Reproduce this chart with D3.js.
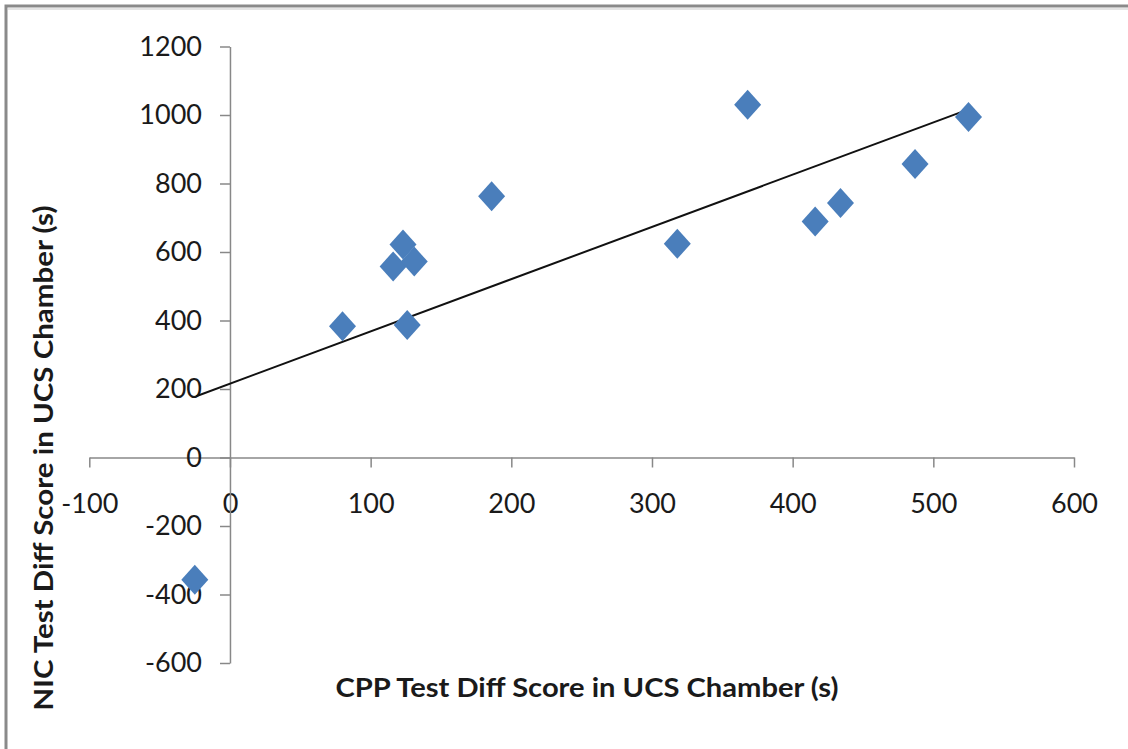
<!DOCTYPE html>
<html>
<head>
<meta charset="utf-8">
<script src="https://d3js.org/d3.v7.min.js"></script>
<style>
  body { margin: 0; background: #fff; }
  text { font-family: Lato, "Liberation Sans", sans-serif; fill: #1a1a1a; }
</style>
</head>
<body>
<svg width="1128" height="749"></svg>
<script>
// values
var cppScore = [-25, 80, 116, 123, 131, 126, 186, 318, 368, 416, 434, 487, 525];
var nicScore = [-357, 383, 558, 622, 572, 387, 763, 624, 1030, 689, 743, 857, 994];
var trendX = [-24, 526];
var trendY = [179, 1018];
var xTicks = [-100, 0, 100, 200, 300, 400, 500, 600];
var yTicks = [-600, -400, -200, 0, 200, 400, 600, 800, 1000, 1200];
var xTitle = "CPP Test Diff Score in UCS Chamber (s)";
var yTitle = "NIC Test Diff Score in UCS Chamber (s)";

var svg = d3.select("svg");

// outer chart frame (runs off the right and bottom of the picture)
svg.append("rect").attr("x", 6).attr("y", 6).attr("width", 1200).attr("height", 800)
  .attr("fill", "none").attr("stroke", "#8a8a8a").attr("stroke-width", 3);
svg.append("line").attr("x1", 8).attr("x2", 1128).attr("y1", 9).attr("y2", 9)
  .attr("stroke", "#e4e4e4").attr("stroke-width", 2);

var x = d3.scaleLinear().domain([-100, 600]).range([89.3, 1074]);
var y = d3.scaleLinear().domain([-600, 1200]).range([663, 46.5]);

var axisColor = "#888";
var plain = function(d) { return String(d); };

var gx = svg.append("g").attr("transform", "translate(0," + y(0) + ")")
  .call(d3.axisBottom(x).tickValues(xTicks).tickFormat(plain).tickSize(10).tickPadding(26).tickSizeOuter(0));
var gy = svg.append("g").attr("transform", "translate(" + x(0) + ",0)")
  .call(d3.axisLeft(y).tickValues(yTicks).tickFormat(plain).tickSize(10).tickPadding(18).tickSizeOuter(0));

[gx, gy].forEach(function(g) {
  g.select(".domain").attr("stroke", axisColor).attr("stroke-width", 1.5);
  g.selectAll(".tick line").attr("stroke", axisColor).attr("stroke-width", 1.5);
  g.selectAll(".tick text").style("font-family", "Lato, 'Liberation Sans', sans-serif")
    .style("font-size", "27px").attr("fill", "#1a1a1a");
});

// trend line
svg.append("line")
  .attr("x1", x(trendX[0])).attr("y1", y(trendY[0]))
  .attr("x2", x(trendX[1])).attr("y2", y(trendY[1]))
  .attr("stroke", "#111").attr("stroke-width", 2);

// diamond markers
svg.append("g").selectAll("path")
  .data(cppScore).enter().append("path")
    .attr("d", "M0,-15L13.5,0L0,15L-13.5,0Z")
    .attr("transform", function(d, i) { return "translate(" + x(d) + "," + y(nicScore[i]) + ")"; })
    .attr("fill", "#4a7ebb");

// axis titles
svg.append("text").attr("x", 587).attr("y", 697)
  .attr("text-anchor", "middle").style("font-size", "27px").style("font-weight", "bold")
  .attr("textLength", 503).attr("lengthAdjust", "spacingAndGlyphs")
  .text(xTitle);

svg.append("text").attr("transform", "translate(53,458) rotate(-90)")
  .attr("text-anchor", "middle").style("font-size", "27px").style("font-weight", "bold")
  .attr("textLength", 505).attr("lengthAdjust", "spacingAndGlyphs")
  .text(yTitle);
</script>
</body>
</html>
